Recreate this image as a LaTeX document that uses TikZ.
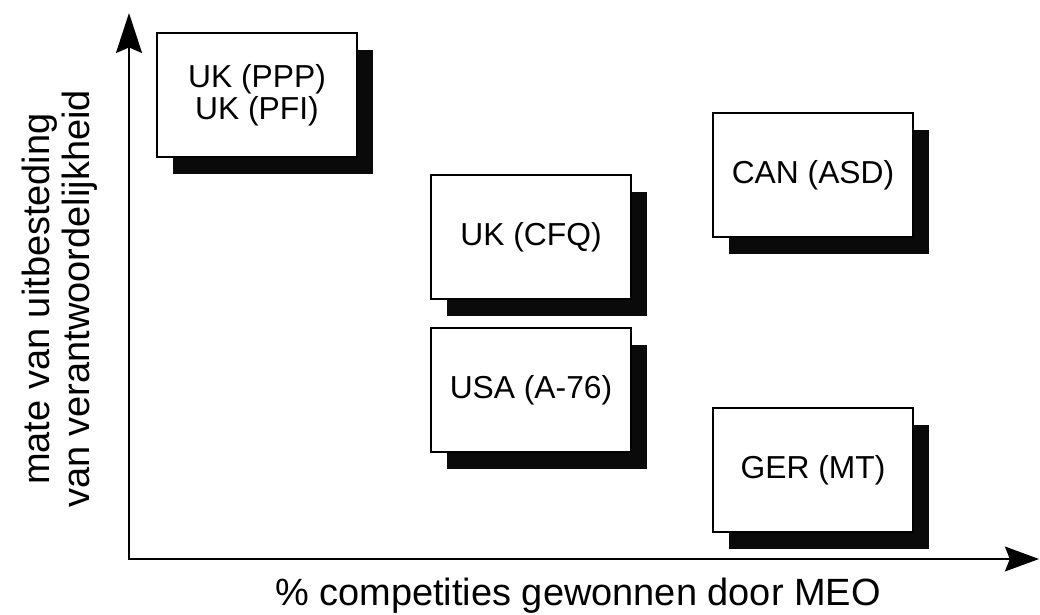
\documentclass[tikz,border=0pt]{standalone}
\usepackage{fontspec}
\setmainfont{Liberation Sans}
\usepackage{xcolor}
\definecolor{schaduw}{HTML}{0A0A0A}
\usepackage{tikz}
\usetikzlibrary{arrows.meta, positioning, shadows}

\tikzset{
  kader/.style={draw, line width=1.4pt, fill=white, minimum width=5cm, minimum height=3.1cm,
    align=center, font=\fontsize{22.6}{23}\selectfont,
    drop shadow={shadow xshift=0.4cm, shadow yshift=-0.42cm, fill=schaduw, opacity=1}},
  as/.style={line width=1.5pt, {Stealth[length=1.0cm, width=0.65cm, inset=0.14cm]}-{Stealth[length=0.85cm, width=0.62cm, inset=0.12cm]}},
  aslabel/.style={font=\fontsize{27}{28.5}\selectfont, align=center}
}

\begin{document}
\begin{tikzpicture}[x=0.025cm, y=-0.025cm]
  \useasboundingbox (0,0) rectangle (1040,614);

  % Assen
  \coordinate (O) at (129,559);
  \coordinate (ytop) at (129,13);
  \coordinate (xend) at (1039,559);
  \draw[as] (ytop) -- (O) -- (xend);

  % Aslabels
  \node[aslabel, rotate=90] (ylabel) at (60,299) {mate van uitbesteding\\van verantwoordelijkheid};
  \node[aslabel, anchor=base] (xlabel) at (578,605) {\% competities gewonnen door MEO};

  % Landen
  \node[kader] (ppp) at (257,95) {UK (PPP)\\UK (PFI)};
  \node[kader] (cfq) at (531,237) {UK (CFQ)};
  \node[kader] (usa) at (531,390) {USA (A-76)};
  \node[kader] (can) at (813,175) {CAN (ASD)};
  \node[kader] (ger) at (813,470) {GER (MT)};
\end{tikzpicture}
\end{document}
